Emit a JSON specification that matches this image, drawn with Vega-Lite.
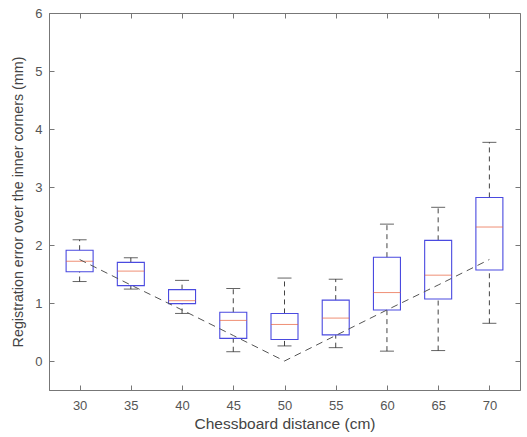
{
  "$schema": "https://vega.github.io/schema/vega-lite/v6.json",
  "width": 471,
  "height": 377,
  "autosize": "none",
  "padding": {"left": 49, "top": 13, "right": 7, "bottom": 47},
  "background": "white",
  "config": {
    "view": {"stroke": "#777", "strokeWidth": 1},
    "font": "Liberation Sans",
    "axis": {"grid": false, "domainColor": "#777", "tickColor": "#777", "labelColor": "#555", "titleColor": "#444", "labelFontSize": 13, "titleFontWeight": "normal", "tickSize": -5}
  },
  "datasets": {
    "boxes": [
      {"d": 30, "lo": 1.37, "q1": 1.54, "med": 1.72, "q3": 1.91, "hi": 2.09},
      {"d": 35, "lo": 1.24, "q1": 1.30, "med": 1.55, "q3": 1.70, "hi": 1.78},
      {"d": 40, "lo": 0.82, "q1": 0.99, "med": 1.04, "q3": 1.23, "hi": 1.39},
      {"d": 45, "lo": 0.16, "q1": 0.39, "med": 0.70, "q3": 0.84, "hi": 1.25},
      {"d": 50, "lo": 0.26, "q1": 0.37, "med": 0.63, "q3": 0.82, "hi": 1.43},
      {"d": 55, "lo": 0.23, "q1": 0.45, "med": 0.74, "q3": 1.05, "hi": 1.41},
      {"d": 60, "lo": 0.17, "q1": 0.88, "med": 1.18, "q3": 1.79, "hi": 2.36},
      {"d": 65, "lo": 0.18, "q1": 1.07, "med": 1.48, "q3": 2.08, "hi": 2.65},
      {"d": 70, "lo": 0.65, "q1": 1.57, "med": 2.31, "q3": 2.82, "hi": 3.77}
    ],
    "vline": [
      {"d": 30, "e": 1.75},
      {"d": 35, "e": 1.31},
      {"d": 40, "e": 0.88},
      {"d": 45, "e": 0.44},
      {"d": 50, "e": 0.0},
      {"d": 55, "e": 0.44},
      {"d": 60, "e": 0.88},
      {"d": 65, "e": 1.31},
      {"d": 70, "e": 1.75}
    ]
  },
  "layer": [
    {
      "data": {"name": "boxes"},
      "layer": [
        {
          "mark": {"type": "rule", "color": "#444", "strokeDash": [5, 4], "strokeWidth": 1},
          "encoding": {
            "x": {"field": "d", "type": "quantitative", "scale": {"domain": [27.5, 72.5], "nice": false, "zero": false},
              "axis": {"values": [30, 35, 40, 45, 50, 55, 60, 65, 70], "title": "Chessboard distance (cm)", "titleFontSize": 15.5, "labelPadding": 14, "titlePadding": 4}},
            "y": {"field": "q3", "type": "quantitative", "scale": {"domain": [-0.5, 6], "nice": false, "zero": false},
              "axis": {"values": [0, 1, 2, 3, 4, 5, 6], "format": "d", "title": "Registration error over the inner corners (mm)", "titleFontSize": 14.3, "labelPadding": 12, "titlePadding": 9}},
            "y2": {"field": "hi"}
          }
        },
        {
          "mark": {"type": "rule", "color": "#444", "strokeDash": [5, 4], "strokeWidth": 1},
          "encoding": {
            "x": {"field": "d", "type": "quantitative"},
            "y": {"field": "lo", "type": "quantitative"},
            "y2": {"field": "q1"}
          }
        },
        {
          "mark": {"type": "tick", "color": "#222", "size": 14, "thickness": 1, "orient": "horizontal"},
          "encoding": {
            "x": {"field": "d", "type": "quantitative"},
            "y": {"field": "hi", "type": "quantitative"}
          }
        },
        {
          "mark": {"type": "tick", "color": "#222", "size": 14, "thickness": 1, "orient": "horizontal"},
          "encoding": {
            "x": {"field": "d", "type": "quantitative"},
            "y": {"field": "lo", "type": "quantitative"}
          }
        },
        {
          "mark": {"type": "bar", "size": 27, "fill": "white", "fillOpacity": 0, "stroke": "#4a4ae0", "strokeWidth": 1.1},
          "encoding": {
            "x": {"field": "d", "type": "quantitative"},
            "y": {"field": "q1", "type": "quantitative"},
            "y2": {"field": "q3"}
          }
        },
        {
          "mark": {"type": "tick", "color": "#e8603a", "size": 27, "thickness": 1, "orient": "horizontal"},
          "encoding": {
            "x": {"field": "d", "type": "quantitative"},
            "y": {"field": "med", "type": "quantitative"}
          }
        }
      ]
    },
    {
      "data": {"name": "vline"},
      "mark": {"type": "line", "color": "#555", "strokeDash": [7, 5], "strokeWidth": 1},
      "encoding": {
        "x": {"field": "d", "type": "quantitative",
          "axis": {"orient": "top", "values": [30, 35, 40, 45, 50, 55, 60, 65, 70], "labels": false, "title": null, "domain": false}},
        "y": {"field": "e", "type": "quantitative",
          "axis": {"orient": "right", "values": [0, 1, 2, 3, 4, 5, 6], "labels": false, "title": null, "domain": false}}
      }
    }
  ],
  "resolve": {"axis": {"x": "independent", "y": "independent"}}
}
